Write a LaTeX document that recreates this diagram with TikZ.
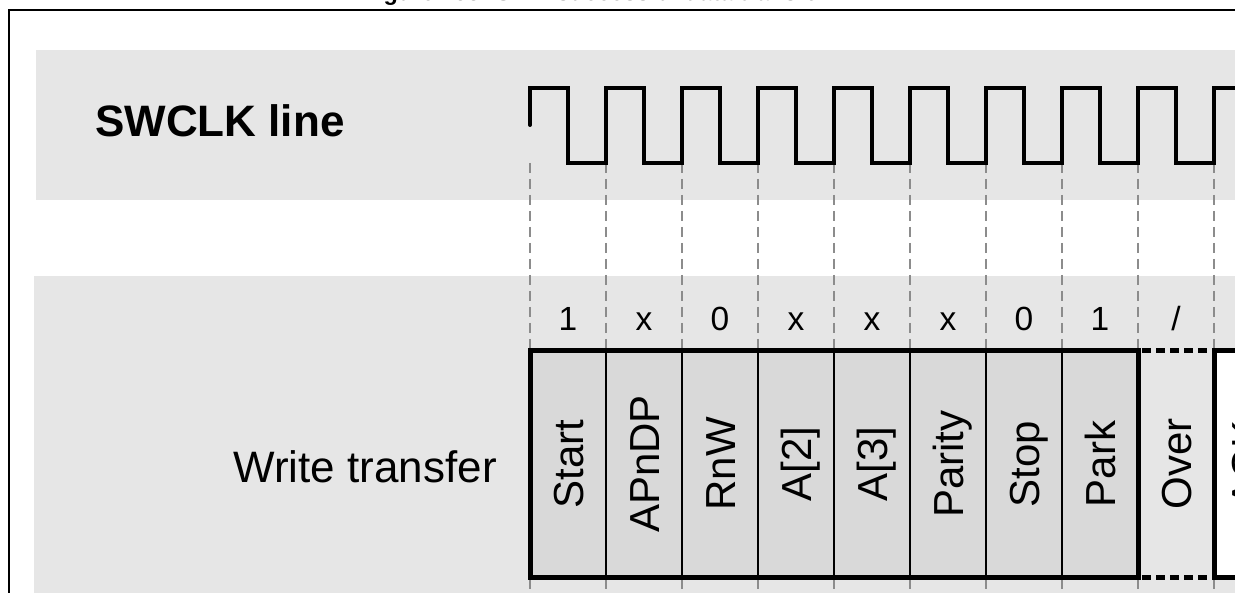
\documentclass[tikz,border=0pt]{standalone}
\usepackage{fontspec}
\setmainfont{Liberation Sans}
\begin{document}
\begin{tikzpicture}[x=1pt,y=-1pt]
\definecolor{band}{HTML}{E6E6E6}
\definecolor{field}{HTML}{D9D9D9}
\definecolor{dashgray}{HTML}{8C8C8C}
\tikzset{
  clkline/.style={line width=4pt, line join=miter, line cap=round},
  gridline/.style={dashgray, line width=1.2pt, dash pattern=on 10pt off 6pt},
  heavy/.style={line width=5pt},
  sepline/.style={line width=1.3pt},
  dotline/.style={line width=5pt, dash pattern=on 9pt off 5pt},
  bitlbl/.style={font=\fontsize{33.5}{36}\selectfont, anchor=base, inner sep=0pt},
  fieldlbl/.style={font=\fontsize{42}{45}\selectfont, rotate=90, anchor=base, inner sep=0pt},
}
\useasboundingbox (0,0) rectangle (1235,593);
\clip (0,0) rectangle (1235,593);
% caption (cut by the top edge)
\node[font=\bfseries\fontsize{23.5}{26}\selectfont, anchor=base, inner sep=0pt] (caption) at (595,0.8) {Figure 158. SWD successful data transfer};
% frame
\draw[line width=2.5pt] (9,700) -- (9,10) -- (1300,10);
% bands
\fill[band] (36,50) rectangle (1240,200);
\fill[band] (34,276) rectangle (1240,600);
% dashed bit boundaries
\foreach \i in {0,...,9} \draw[gridline] ({530+76*\i},163) -- ({530+76*\i},600);
% clock
\draw[clkline] (530,125) -- (530,88)
  \foreach \i in {0,...,8} { -- ({568+76*\i},88) -- ({568+76*\i},163) -- ({606+76*\i},163) -- ({606+76*\i},88) }
  -- (1260,88);
% titles
\node[font=\bfseries\fontsize{44}{48}\selectfont, anchor=base west, inner sep=0pt] (swclk) at (95,137) {SWCLK line};
\node[font=\fontsize{44}{48}\selectfont, anchor=base east, inner sep=0pt] (wt) at (497,483) {Write transfer};
% bit values
\foreach \b [count=\i from 0] in {1,x,0,x,x,x,0,1,/}
  \node[bitlbl] (bit\i) at ({568+76*\i},331) {\b};
% fields
\fill[field] (530,351) rectangle (1138,577);
\fill[white] (1214,351) rectangle (1260,577);
\foreach \i in {1,...,7} \draw[sepline] ({530+76*\i},351) -- ({530+76*\i},577);
\draw[heavy] (530,351) rectangle (1138,577);
\draw[dotline] (1142,351) -- (1214,351);
\draw[dotline] (1142,577) -- (1214,577);
\draw[heavy] (1260,351) -- (1214,351) -- (1214,577) -- (1260,577);
\foreach \t [count=\i from 0] in {Start,APnDP,RnW,A[2],A[3],Parity,Stop,Park,Over}
  \node[fieldlbl] (f\i) at ({568+76*\i+15},464) {\t};
\node[fieldlbl] (f9) at (1261,464) {ACK};
\end{tikzpicture}
\end{document}
